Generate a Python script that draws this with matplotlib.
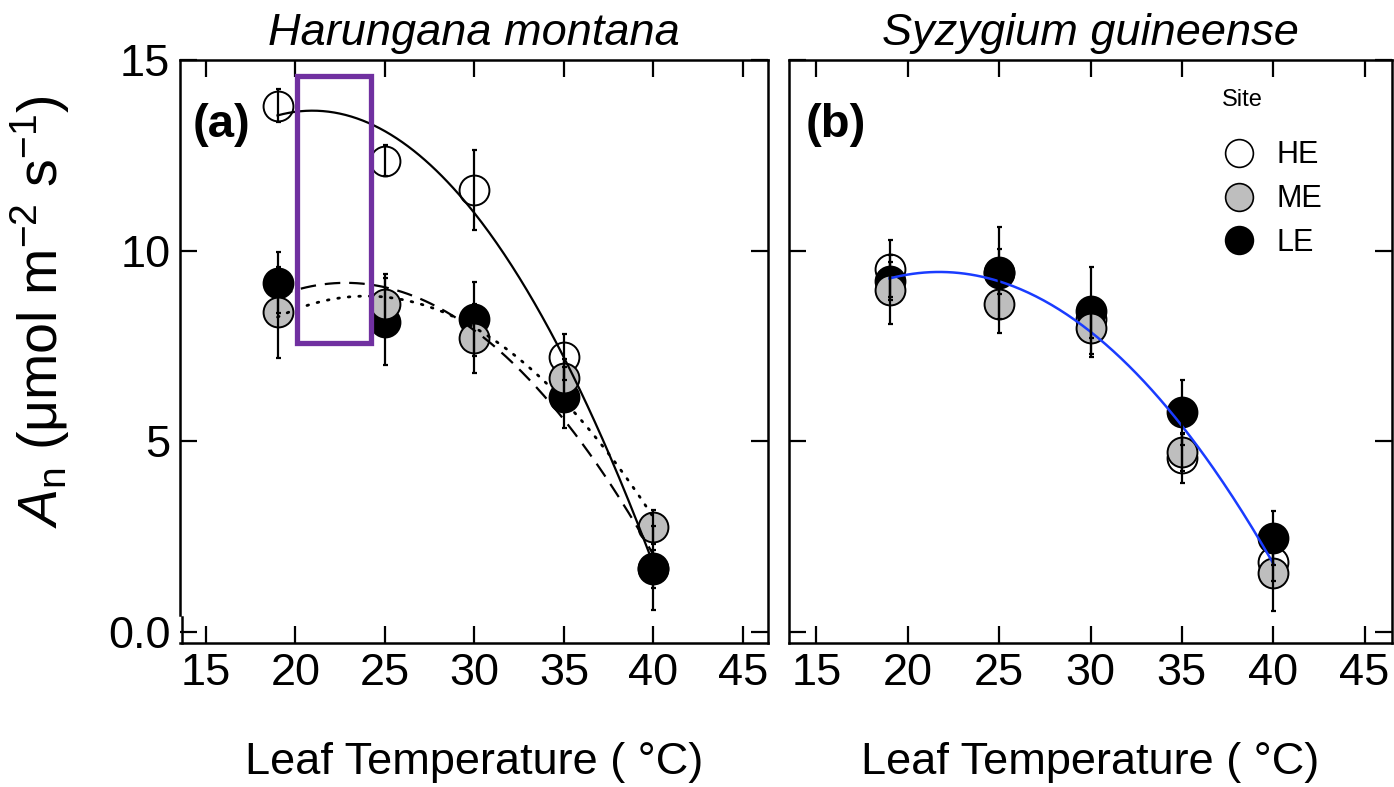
import numpy as np
import matplotlib
matplotlib.use('Agg')
import matplotlib.pyplot as plt
from matplotlib.patches import Rectangle
from matplotlib.lines import Line2D
import matplotlib.transforms as mtransforms

plt.rcParams['font.family'] = ['Liberation Sans', 'DejaVu Sans']
plt.rcParams['mathtext.fontset'] = 'custom'
plt.rcParams['mathtext.rm'] = 'Liberation Sans'
plt.rcParams['mathtext.it'] = 'Liberation Sans:italic'

# leaf temperatures (deg C)
temps = [19, 25, 30, 35, 40]

# Harungana montana, net assimilation (mean, s.e.)
hm_he = [13.8, 12.36, 11.6, 7.22, 1.65]
hm_he_se = [0.43, 0.4, 1.05, 0.6, 0.5]
hm_me = [8.38, 8.6, 7.7, 6.65, 2.75]
hm_me_se = [1.2, 0.8, 0.9, 0.5, 0.45]
hm_le = [9.16, 8.14, 8.22, 6.15, 1.67]
hm_le_se = [0.8, 1.15, 0.97, 0.8, 1.1]

# Syzygium guineense
sg_he = [9.53, 9.45, 8.2, 4.55, 1.83]
sg_he_se = [0.75, 0.6, 0.5, 0.65, 0.5]
sg_me = [8.98, 8.6, 7.96, 4.71, 1.54]
sg_me_se = [0.9, 0.77, 0.74, 0.5, 1.0]
sg_le = [9.21, 9.42, 8.43, 5.76, 2.46]
sg_le_se = [0.5, 1.2, 1.15, 0.85, 0.7]

sites = ['HE', 'ME', 'LE']
site_fill = {'HE': 'white', 'ME': '#BEBEBE', 'LE': 'black'}

FS = 32.5
MS = 21.5


def quad_fit(x, y):
    coef = np.polyfit(x, y, 2)
    xx = np.linspace(min(x), max(x), 200)
    return xx, np.polyval(coef, xx)


def draw_points(ax, series):
    # HE underneath, then LE, ME on top
    for site in ['HE', 'LE', 'ME']:
        y, se = series[site]
        ax.plot(temps, y, 'o', ms=MS, mfc=site_fill[site], mec='black',
                mew=1.4, zorder=3)
    for site in ['HE', 'LE', 'ME']:
        y, se = series[site]
        ax.errorbar(temps, y, yerr=se, fmt='none', ecolor='black',
                    elinewidth=1.6, capsize=1.8, capthick=1.6, zorder=6)


def style_axis(ax, xlim):
    ax.set_xlim(*xlim)
    ax.set_ylim(-0.29, 15)
    ax.set_xticks([15, 20, 25, 30, 35, 40, 45])
    ax.set_yticks([0, 5, 10, 15])
    ax.tick_params(direction='in', length=12, width=1.6, top=True,
                   right=True, labelsize=FS, pad=7)
    for sp in ax.spines.values():
        sp.set_linewidth(1.8)


fig = plt.figure(figsize=(13.94, 7.87), dpi=100)
ax1 = fig.add_axes([180 / 1394, 1 - 643 / 787, 588 / 1394, 583 / 787])
ax2 = fig.add_axes([789 / 1394, 1 - 643 / 787, 603 / 1394, 583 / 787])

# panel (a)
hm = {'HE': (hm_he, hm_he_se), 'ME': (hm_me, hm_me_se), 'LE': (hm_le, hm_le_se)}
draw_points(ax1, hm)
xx, yy = quad_fit(temps, hm_he)
ax1.plot(xx, yy, color='black', lw=1.6, zorder=4)
xx, yy = quad_fit(temps, hm_le)
ax1.plot(xx, yy, color='black', lw=1.6, ls=(0, (7, 4)), zorder=4)
xx, yy = quad_fit(temps, hm_me)
ax1.plot(xx, yy, color='black', lw=2.0, ls=(0, (0.6, 3.2)),
         dash_capstyle='round', zorder=4)
style_axis(ax1, (13.55, 46.4))
ax1.set_yticklabels(['0.0', '5', '10', '15'])
ax1.set_title('Harungana montana', fontsize=FS, style='italic', pad=11)
ax1.text(0.022, 0.888, '(a)', transform=ax1.transAxes, fontsize=34,
         fontweight='bold', va='center', ha='left')
ax1.add_patch(Rectangle((20.08, 7.59), 4.14, 6.99, fill=False,
                        edgecolor='#7030A0', lw=3.8, zorder=8))

# small break at the foot of the y axis
ax1.spines['left'].set_bounds(0.45, 15)
brk = mtransforms.blended_transform_factory(ax1.transAxes, ax1.transData)
ax1.add_line(Line2D([0.004, 0.004], [-0.29, 0.4], transform=brk,
                    color='black', lw=1.8, clip_on=False))

# panel (b)
sg = {'HE': (sg_he, sg_he_se), 'ME': (sg_me, sg_me_se), 'LE': (sg_le, sg_le_se)}
draw_points(ax2, sg)
pooled_t = temps * 3
pooled_y = sg_he + sg_me + sg_le
xx, yy = quad_fit(pooled_t, pooled_y)
ax2.plot(xx, yy, color='#1a3cff', lw=1.8, zorder=4)
style_axis(ax2, (13.5, 46.5))
ax2.set_yticklabels([])
ax2.set_title('Syzygium guineense', fontsize=FS, style='italic', pad=11)
ax2.text(0.027, 0.888, '(b)', transform=ax2.transAxes, fontsize=34,
         fontweight='bold', va='center', ha='left')

handles = [Line2D([], [], ls='none', marker='o', ms=20, mfc=site_fill[s],
                  mec='black', mew=1.2) for s in sites]
leg = ax2.legend(handles, sites, frameon=False, fontsize=22,
                 loc='upper left', bbox_to_anchor=(0.721, 0.862),
                 borderaxespad=0, borderpad=0, handletextpad=0.71,
                 labelspacing=0.45, handlelength=1.0)
ax2.text(0.718, 0.931, 'Site', transform=ax2.transAxes, fontsize=17,
         ha='left', va='center')

for ax in (ax1, ax2):
    ax.set_xlabel('Leaf Temperature ( °C)', fontsize=FS)
    ax.xaxis.set_label_coords(0.5, -0.17)

fig.text(0.029, 0.604, r'$\mathit{A}_{\mathrm{n}}$ (μmol m$^{-2}$ s$^{-1}$)',
         rotation=90, ha='center', va='center', fontsize=40)

fig.savefig('out.png', dpi=100)
